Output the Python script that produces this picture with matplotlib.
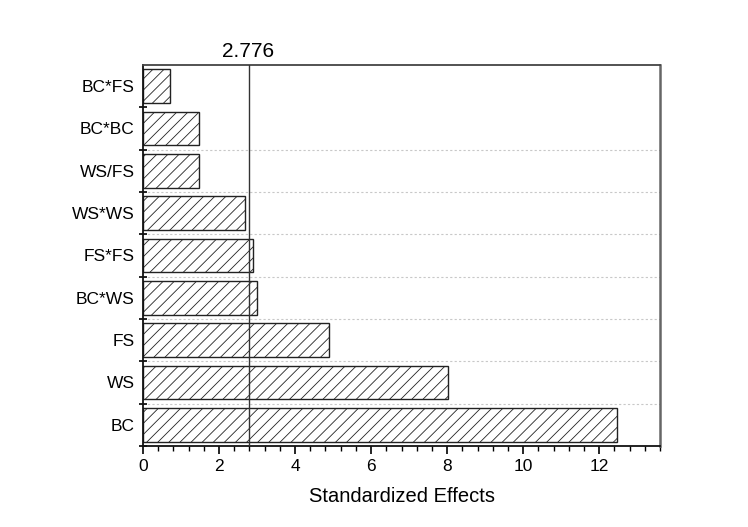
import matplotlib
matplotlib.use("Agg")
import matplotlib.pyplot as plt
from matplotlib.ticker import MultipleLocator

# Pareto-style chart of standardized effects
terms = ["BC", "WS", "FS", "BC*WS", "FS*FS", "WS*WS", "WS/FS", "BC*BC", "BC*FS"]
effects = [12.48, 8.01, 4.88, 2.99, 2.88, 2.68, 1.48, 1.48, 0.71]
critical_value = 2.776
x_ticks = [0, 2, 4, 6, 8, 10, 12]

plt.rcParams["font.family"] = ["Liberation Sans", "DejaVu Sans"]
plt.rcParams["hatch.linewidth"] = 0.6

fig = plt.figure(figsize=(7.48, 5.27), dpi=100)
ax = fig.add_axes([0.1912, 0.1537, 0.6912, 0.7230])

ypos = list(range(len(terms)))
ax.barh(ypos, effects, height=0.8, color="white", edgecolor="#222222",
        linewidth=1.0, hatch="///", zorder=2)

# dotted separators between categories
for b in [p + 0.5 for p in ypos[:-2]]:
    ax.axhline(b, color="#c8c8c8", lw=0.8, ls=(0, (2, 2)), zorder=1)

ax.axvline(critical_value, color="#333333", lw=1.0, zorder=3)
ax.text(critical_value, 1.01, f"{critical_value:.3f}", transform=ax.get_xaxis_transform(),
        ha="center", va="bottom", fontsize=15)

ax.set_xlim(0, 13.6)
ax.set_ylim(-0.5, len(terms) - 0.5)
ax.set_xticks(x_ticks)
ax.xaxis.set_minor_locator(MultipleLocator(0.4))
ax.set_yticks(ypos)
ax.set_yticklabels(terms)
ax.set_yticks([p + 0.5 for p in ypos[:-1]] + [-0.5], minor=True)
ax.tick_params(axis="y", which="major", length=0, labelsize=12.5, pad=6)
ax.tick_params(axis="y", which="minor", length=6, width=1.2, direction="inout")
ax.tick_params(axis="x", which="major", length=6, width=1.2, direction="out", labelsize=12.5)
ax.tick_params(axis="x", which="minor", length=3.5, width=1.0, direction="out")

ax.set_xlabel("Standardized Effects", fontsize=14.5, labelpad=9)

for side in ["left", "bottom"]:
    ax.spines[side].set_linewidth(1.3)
    ax.spines[side].set_color("#111111")
ax.spines["top"].set_linewidth(1.3)
ax.spines["top"].set_color("#444444")
ax.spines["right"].set_linewidth(1.8)
ax.spines["right"].set_color("#666666")

fig.savefig("out.png", dpi=100)
